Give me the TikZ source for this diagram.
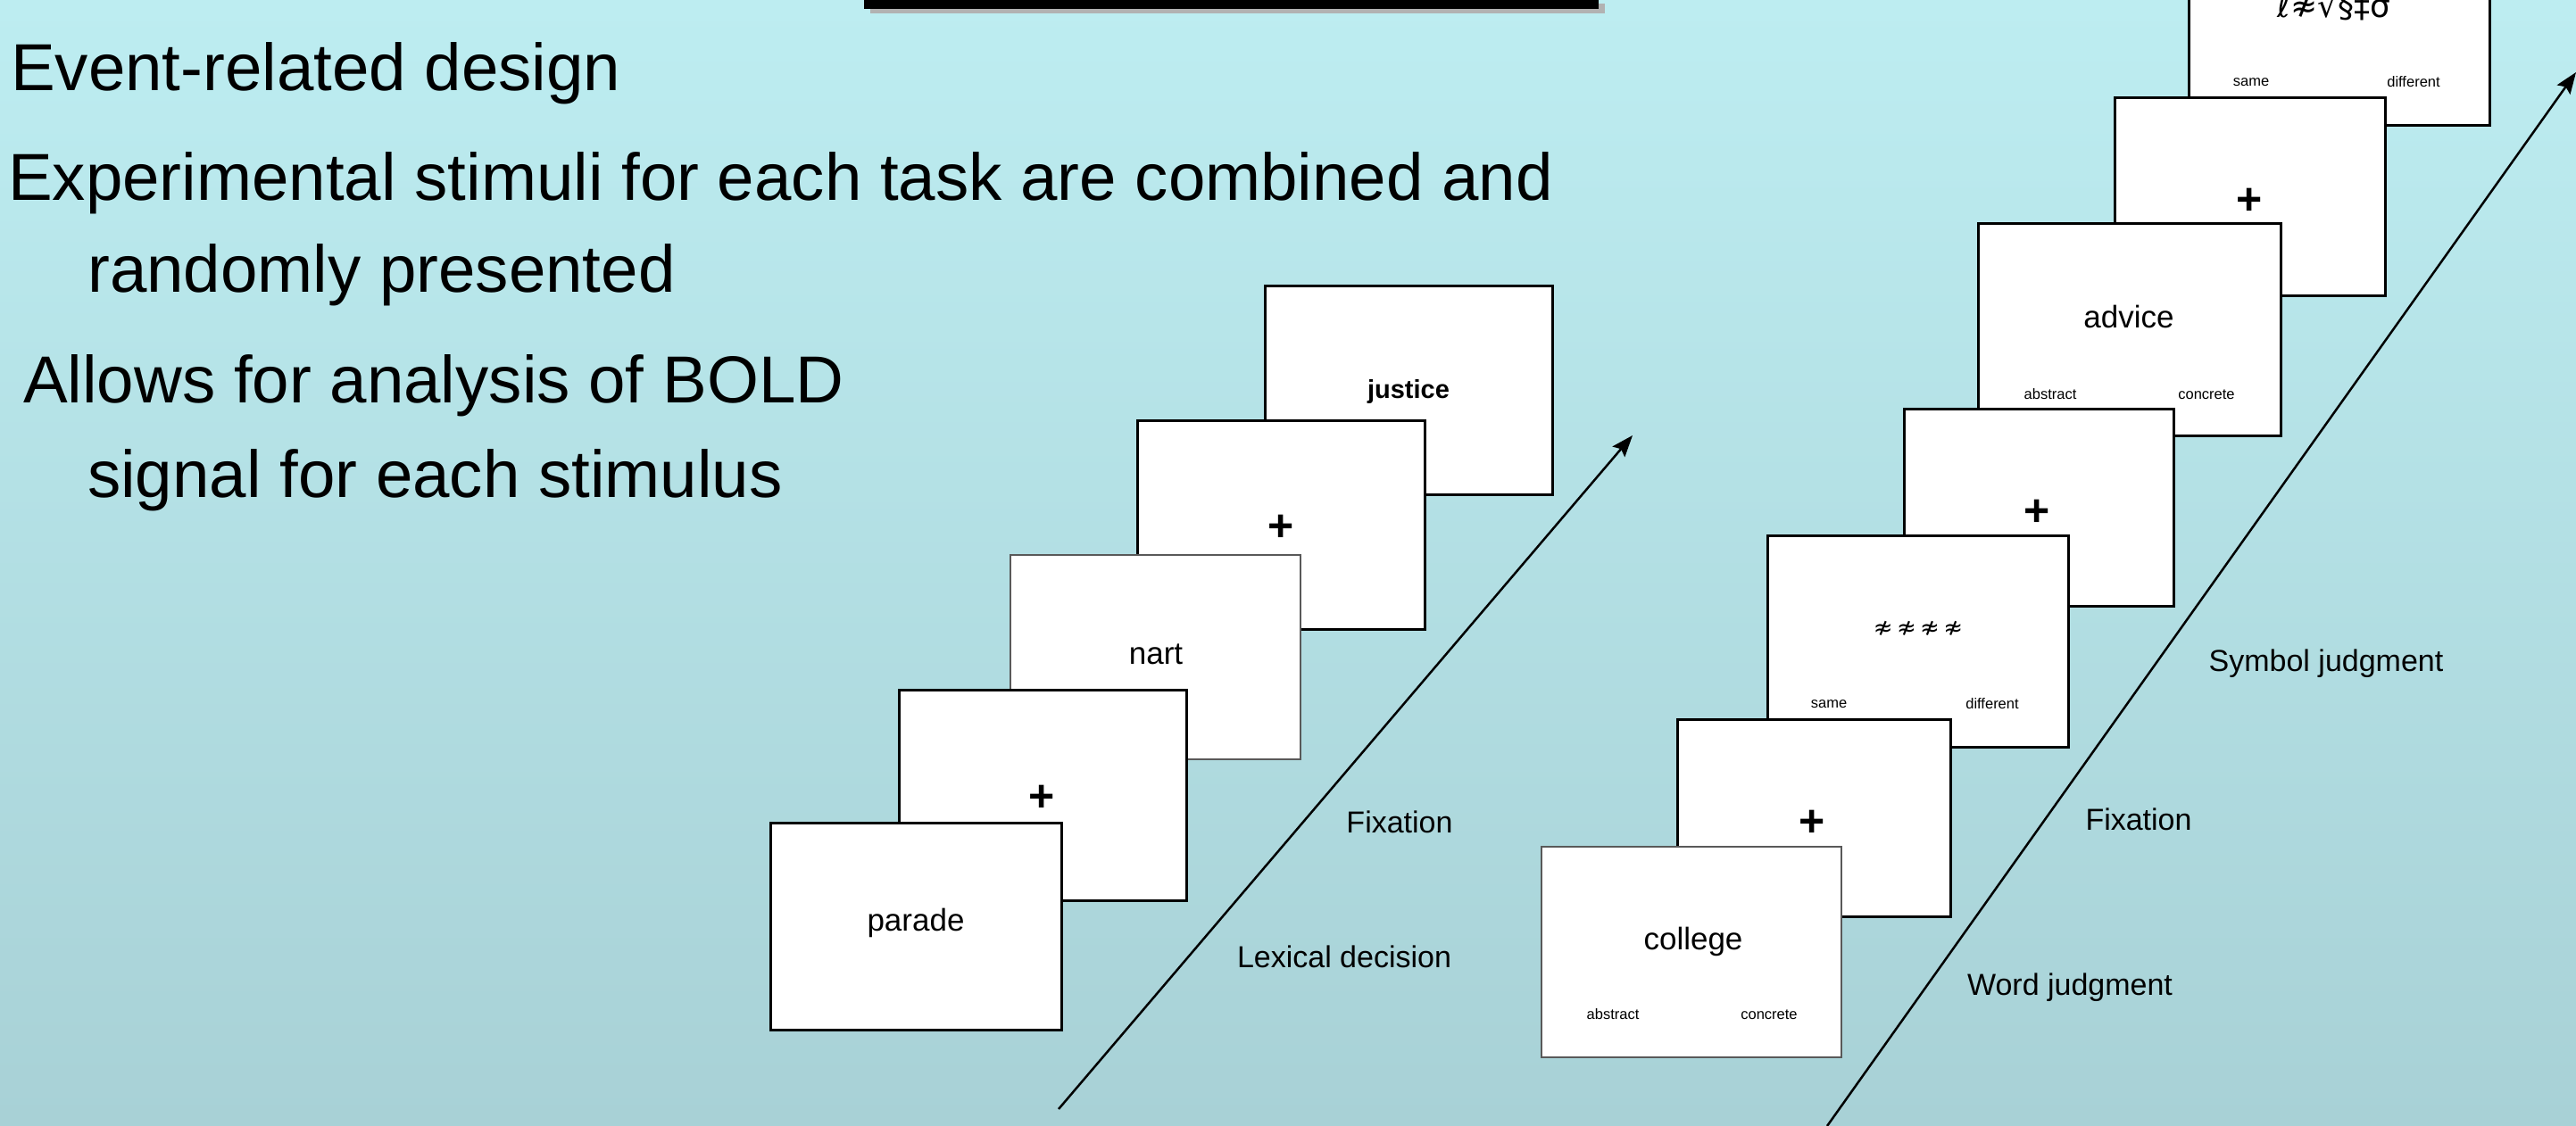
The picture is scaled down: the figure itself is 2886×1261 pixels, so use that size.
\documentclass[tikz,border=0pt]{standalone}
\usepackage{fontspec}
\setmainfont{Liberation Sans}
\newfontfamily\symfont{DejaVu Sans}
\usetikzlibrary{arrows.meta}
\definecolor{bgtop}{RGB}{189,237,241}
\definecolor{bgbot}{RGB}{168,209,214}
\begin{document}
\begin{tikzpicture}[x=1pt,y=-1pt,
  card/.style={draw=black, line width=3pt, fill=white, inner sep=0pt, rectangle},
  thincard/.style={card, draw=black!65, line width=1.5pt},
  word/.style={font=\fontsize{35}{40}\selectfont, inner sep=0pt},
  plus/.style={font=\fontsize{50}{52}\selectfont\bfseries, inner sep=0pt},
  small/.style={font=\fontsize{16.5}{18}\selectfont, inner sep=0pt},
  lab/.style={font=\fontsize{34}{38}\selectfont, inner sep=0pt},
  head/.style={font=\fontsize{74.5}{80}\selectfont, inner sep=0pt, anchor=base west},
  arrowline/.style={line width=2.5pt, -{Stealth[length=24pt,width=18pt,inset=4pt]}}]
\useasboundingbox (0,0) rectangle (2886,1261);
\shade[top color=bgtop, bottom color=bgbot] (0,0) rectangle (2886,1261);
% black bar with shadow
\fill[black!30] (975,4) rectangle (1798,15);
\fill[black] (968,-5) rectangle (1791,10);
% heading text
\node[head] (t1) at (12,101) {Event-related design};
\node[head] (t2) at (9,224) {Experimental stimuli for each task are combined and};
\node[head] (t3) at (98,327) {randomly presented};
\node[head] (t4) at (26,451) {Allows for analysis of BOLD};
\node[head] (t5) at (98,557) {signal for each stimulus};
% left sequence
\node[card, minimum width=322pt, minimum height=234pt] (l5) at (1578,437) {};
\node[inner sep=0pt, font=\fontsize{29}{32}\selectfont\bfseries] (l5t) at (1578,439) {justice};
\node[card, minimum width=322pt, minimum height=234pt] (l4) at (1435,588) {};
\node[plus] (l4t) at (1435,592) {+};
\node[thincard, minimum width=325pt, minimum height=229pt] (l3) at (1294.5,736.5) {};
\node[word] (l3t) at (1295,733) {nart};
\node[card, minimum width=322pt, minimum height=236pt] (l2) at (1168,891) {};
\node[plus] (l2t) at (1167,895) {+};
\node[card, minimum width=326pt, minimum height=232pt] (l1) at (1026,1038) {};
\node[word] (l1t) at (1026,1034) {parade};
% left arrow
\coordinate (la0) at (1186,1243);
\coordinate (la1) at (1829,488);
\draw[arrowline] (la0) -- (la1);
\node[lab] (lf) at (1568,921) {Fixation};
\node[lab] (ll) at (1506,1072) {Lexical decision};
% right sequence
\node[card, minimum width=337pt, minimum height=237pt] (r7) at (2620.5,21.5) {};
\node[inner sep=0pt, anchor=base, font=\symfont\fontsize{36}{40}\selectfont] (r7t) at (2615,19) {ℓ≉√§‡σ};
\node[small] (r7a) at (2522,92) {same};
\node[small] (r7b) at (2704,92) {different};
\node[card, minimum width=303pt, minimum height=222pt] (r6) at (2520.5,220) {};
\node[plus] (r6t) at (2520,226) {+};
\node[card, minimum width=339pt, minimum height=238pt] (r5) at (2385.5,369) {};
\node[word] (r5t) at (2385,355) {advice};
\node[small] (r5a) at (2297,442) {abstract};
\node[small] (r5b) at (2472,442) {concrete};
\node[card, minimum width=302pt, minimum height=221pt] (r4) at (2284,568.5) {};
\node[plus] (r4t) at (2282,575) {+};
\node[card, minimum width=337pt, minimum height=237pt] (r3) at (2148.5,718.5) {};
\node[inner sep=0pt, font=\symfont\fontsize{26}{28}\selectfont] (r3t) at (2149,704) {≉\,≉\,≉\,≉};
\node[small] (r3a) at (2049,789) {same};
\node[small] (r3b) at (2232,789) {different};
\node[card, minimum width=306pt, minimum height=221pt] (r2) at (2032,916.5) {};
\node[plus] (r2t) at (2030,923) {+};
\node[thincard, minimum width=336pt, minimum height=236pt] (r1) at (1895,1067) {};
\node[word] (r1t) at (1897,1055) {college};
\node[small] (r1a) at (1807,1137) {abstract};
\node[small] (r1b) at (1982,1137) {concrete};
% right arrow
\coordinate (ra0) at (2047,1262);
\coordinate (ra1) at (2886,81);
\draw[arrowline] (ra0) -- (ra1);
\node[lab] (rs) at (2606,744) {Symbol judgment};
\node[lab] (rf) at (2396,918) {Fixation};
\node[lab] (rw) at (2319,1107) {Word judgment};
\end{tikzpicture}
\end{document}
